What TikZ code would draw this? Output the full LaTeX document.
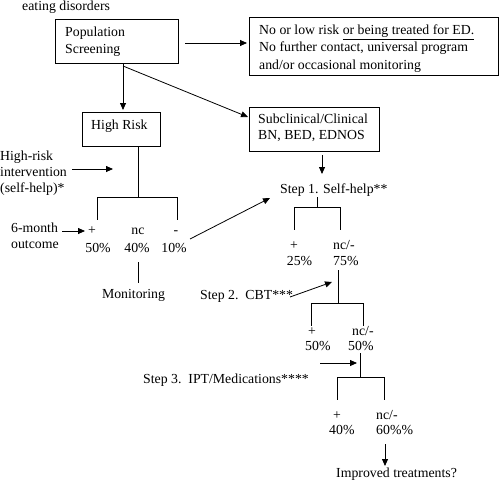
\documentclass[tikz,border=0pt]{standalone}
\usepackage{fontspec}
\setmainfont{Liberation Serif}
\usetikzlibrary{arrows.meta}
\begin{document}
\begin{tikzpicture}[x=1pt,y=-1pt,
  every node/.style={font=\fontsize{13.8}{17}\selectfont, inner sep=0pt},
  txt/.style={anchor=base west},
  ctr/.style={anchor=base},
  box/.style={draw, line width=0.8pt, anchor=north west},
  arr/.style={-{Triangle[length=7pt,width=6pt]}, line width=0.8pt},
  ln/.style={line width=0.7pt}]
\useasboundingbox (0,0) rectangle (500,487);

% top caption
\node[txt] (cap) at (22,11) {eating disorders};

% boxes
\node[box, minimum width=123pt, minimum height=44pt] (pop) at (55,19) {};
\node[txt] (popa) at (65,37) {Population};
\node[txt] (popb) at (65,53) {Screening};

\node[box, minimum width=249pt, minimum height=58pt] (low) at (249,17) {};
\node[txt] (lowa) at (259,35) {No or low risk \underline{or being treated for ED.}};
\node[txt] (lowb) at (259,52) {No further contact, universal program};
\node[txt] (lowc) at (259,69) {and/or occasional monitoring};

\node[box, minimum width=78pt, minimum height=34pt] (hr) at (82,112) {};
\node[txt] (hrt) at (91,129) {High Risk};

\node[box, minimum width=130pt, minimum height=44pt] (sub) at (249,107) {};
\node[txt] (suba) at (258,123) {Subclinical/Clinical};
\node[txt] (subb) at (258,139) {BN, BED, EDNOS};

% coordinates
\coordinate (popS) at (123,63);
\coordinate (popS2) at (123,66);
\coordinate (popE) at (185,43);
\coordinate (lowW) at (247,43);
\coordinate (hrN) at (123,110);
\coordinate (subW) at (248,117);

\draw[arr] (popE) -- (lowW);
\draw[arr] (popS) -- (hrN);
\draw[arr] (popS2) -- (subW);

% left high-risk branch
\node[txt] (hria) at (0,160) {High-risk};
\node[txt] (hrib) at (0,176) {intervention};
\node[txt] (hric) at (0,192) {(self-help)*};
\coordinate (hriE) at (72,169);
\coordinate (hriT) at (113,169);
\draw[arr] (hriE) -- (hriT);

\coordinate (hrS) at (138,146);
\coordinate (t0) at (138,197);
\coordinate (t0l) at (97,197);
\coordinate (t0r) at (177,197);
\coordinate (t0lb) at (97,220);
\coordinate (t0rb) at (177,220);
\draw[ln] (hrS) -- (t0);
\draw[ln] (t0l) -- (t0r);
\draw[ln] (t0l) -- (t0lb);
\draw[ln] (t0r) -- (t0rb);

\node[txt] (sma) at (11,232) {6-month};
\node[txt] (smb) at (11,248) {outcome};
\coordinate (smE) at (62,231);
\coordinate (smT) at (85,231);
\draw[arr] (smE) -- (smT);

\node[ctr] (p0) at (92,234) {+};
\node[ctr] (nc0) at (138,234) {nc};
\node[ctr] (m0) at (176,234) {-};
\node[ctr] (p0v) at (98,252) {50\%};
\node[ctr] (nc0v) at (137,252) {40\%};
\node[ctr] (m0v) at (174,252) {10\%};

\coordinate (monT) at (138,262);
\coordinate (monB) at (138,283);
\draw[ln] (monT) -- (monB);
\node[ctr] (mon) at (133.5,298) {Monitoring};

% step 1
\coordinate (subS) at (322,155);
\coordinate (s1T) at (322,174);
\draw[arr] (subS) -- (s1T);
\node[txt] (s1) at (280,193) {Step 1. Self-help**};
\coordinate (tenE) at (190,239);
\coordinate (s1W) at (270,198);
\draw[arr] (tenE) -- (s1W);

\coordinate (t1) at (317,197);
\coordinate (t1m) at (317,207);
\coordinate (t1l) at (294,207);
\coordinate (t1r) at (340,207);
\coordinate (t1lb) at (294,230);
\coordinate (t1rb) at (340,230);
\draw[ln] (t1) -- (t1m);
\draw[ln] (t1l) -- (t1r);
\draw[ln] (t1l) -- (t1lb);
\draw[ln] (t1r) -- (t1rb);
\node[ctr] (p1) at (294,249) {+};
\node[ctr] (p1v) at (299.5,265) {25\%};
\node[txt] (n1) at (333,249) {nc/-};
\node[txt] (n1v) at (333,265) {75\%};

% step 2
\node[txt] (s2) at (200,299) {Step 2.\ \ CBT***};
\coordinate (s2E) at (290,297);
\coordinate (s2T) at (332,282);
\draw[arr] (s2E) -- (s2T);

\coordinate (t2) at (338,270);
\coordinate (t2m) at (338,303);
\coordinate (t2l) at (311,303);
\coordinate (t2r) at (363,303);
\coordinate (t2lb) at (311,326);
\coordinate (t2rb) at (363,326);
\draw[ln] (t2) -- (t2m);
\draw[ln] (t2l) -- (t2r);
\draw[ln] (t2l) -- (t2lb);
\draw[ln] (t2r) -- (t2rb);
\node[ctr] (p2) at (312,335) {+};
\node[txt] (p2v) at (305,350) {50\%};
\node[txt] (n2) at (352,335) {nc/-};
\node[txt] (n2v) at (348,350) {50\%};

% step 3
\node[txt] (s3) at (143,383) {Step 3.\ \ IPT/Medications****};
\coordinate (s3E) at (320,363);
\coordinate (s3T) at (357,363);
\draw[arr] (s3E) -- (s3T);

\coordinate (t3) at (360,353);
\coordinate (t3m) at (360,377);
\coordinate (t3l) at (337,377);
\coordinate (t3r) at (384,377);
\coordinate (t3lb) at (337,400);
\coordinate (t3rb) at (384,400);
\draw[ln] (t3) -- (t3m);
\draw[ln] (t3l) -- (t3r);
\draw[ln] (t3l) -- (t3lb);
\draw[ln] (t3r) -- (t3rb);
\node[ctr] (p3) at (337,419) {+};
\node[txt] (p3v) at (329,434) {40\%};
\node[txt] (n3) at (376,419) {nc/-};
\node[txt] (n3v) at (376,434) {60\%\%};

\coordinate (impT) at (385,444);
\coordinate (impB) at (385,466);
\draw[arr] (impT) -- (impB);
\node[txt] (imp) at (336,477) {Improved treatments?};
\end{tikzpicture}
\end{document}
